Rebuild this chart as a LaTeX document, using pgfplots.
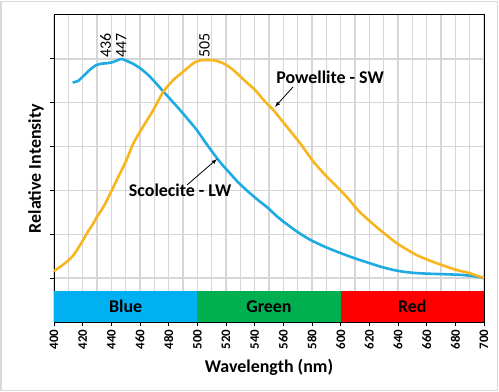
\documentclass[border=0pt]{standalone}
\usepackage{pgfplots}
\pgfplotsset{compat=1.18}
\usepackage{fontspec}
\setmainfont{Carlito}
\definecolor{lblue}{RGB}{30,170,226}
\definecolor{lorange}{RGB}{247,182,30}
\definecolor{bblue}{RGB}{0,176,240}
\definecolor{bgreen}{RGB}{0,176,80}
\definecolor{bred}{RGB}{255,0,0}
\definecolor{gridc}{RGB}{214,214,214}
\definecolor{framec}{RGB}{217,217,217}
\begin{document}
\begin{tikzpicture}
\useasboundingbox (-54bp,-70bp) rectangle (445bp,322bp);
\draw[framec, line width=1.5bp] (-53bp,-68.5bp) rectangle (443.5bp,320.5bp);
\begin{axis}[
  at={(0,0)}, anchor=south west,
  scale only axis, width=430bp, height=307bp,
  xmin=400, xmax=700, ymin=-0.2, ymax=1.2,
  xtick={400,420,...,700},
  minor xtick={410,430,...,690},
  ytick={0,0.2,0.4,0.6,0.8,1.0},
  yticklabels={},
  xtick pos=lower, ytick pos=left,
  tick align=outside,
  major tick length=4bp, minor tick length=0pt,
  tick style={black, line width=0.8bp},
  xmajorgrids, xminorgrids, ymajorgrids,
  grid style={gridc, line width=1.3bp},
  minor grid style={gridc, line width=1.3bp},
  axis line style={black, line width=1bp},
  /pgf/number format/assume math mode=true,
  /pgf/number format/1000 sep={},
  x tick label style={rotate=90, anchor=east, font=\fontsize{13}{14}\selectfont\bfseries},
  xlabel={Wavelength (nm)},
  ylabel={Relative Intensity},
  every axis x label/.style={at={(axis description cs:0.5,0)}, yshift=-45bp, anchor=center, font=\fontsize{18}{20}\selectfont\bfseries},
  every axis y label/.style={at={(axis description cs:0,0.5)}, xshift=-18bp, rotate=90, anchor=center, font=\fontsize{18}{20}\selectfont\bfseries},
  clip=false,
]
\addplot[fill=bblue, draw=none] coordinates {(400,-0.2) (500,-0.2) (500,-0.059) (400,-0.059)} -- cycle;
\addplot[fill=bgreen, draw=none] coordinates {(500,-0.2) (600,-0.2) (600,-0.059) (500,-0.059)} -- cycle;
\addplot[fill=bred, draw=none] coordinates {(600,-0.2) (700,-0.2) (700,-0.059) (600,-0.059)} -- cycle;
\node[font=\fontsize{18}{20}\selectfont\bfseries] at (axis cs:450,-0.13) {Blue};
\node[font=\fontsize{18}{20}\selectfont\bfseries] at (axis cs:550,-0.13) {Green};
\node[font=\fontsize{18}{20}\selectfont\bfseries] at (axis cs:650,-0.13) {Red};
% Scolecite - LW
\addplot[lblue, line width=2.6bp, mark=none, smooth, tension=0.3] coordinates {
(413,0.892) (417,0.90) (421,0.925) (425,0.95) (429,0.97) (433,0.978) (437,0.98)
(441,0.985) (444,0.993) (447,1.0) (451,0.99) (455,0.978) (460,0.958) (466,0.925)
(471,0.89) (476.3,0.851) (482,0.81) (487.9,0.767) (494,0.72) (499.6,0.676) (505,0.625)
(511.2,0.569) (517,0.52) (522.8,0.478) (528,0.44) (534.5,0.400) (542,0.358) (549.3,0.32)
(555,0.285) (560,0.258) (570,0.21) (579,0.174) (590,0.14) (600,0.114) (610,0.09)
(618,0.073) (628,0.052) (637,0.037) (645,0.028) (653,0.023) (662,0.02) (672,0.018)
(680,0.016) (686,0.014) (694,0.008) (700,0.0)};
% Powellite - SW
\addplot[lorange, line width=2.6bp, mark=none, smooth, tension=0.3] coordinates {
(400,0.032) (405,0.055) (409,0.075) (413,0.10) (416,0.128) (420,0.17) (423,0.205)
(427,0.245) (430,0.28) (434,0.32) (437,0.356) (444,0.45) (450,0.53) (455,0.61)
(460,0.668) (469.3,0.767) (476.3,0.851) (483.3,0.904) (490.2,0.942) (497.2,0.98)
(502,0.993) (506.6,0.995) (512,0.993) (518,0.98) (523,0.96) (527.5,0.935) (534,0.895)
(540.3,0.858) (547.2,0.805) (553,0.767) (562.4,0.691) (571.7,0.615) (581,0.531)
(590.3,0.463) (599.6,0.402) (605,0.365) (610,0.326) (614,0.297) (625,0.233) (639,0.16)
(653,0.105) (667,0.068) (681,0.037) (690,0.023) (700,0.0)};
% peak labels
\node[rotate=90, anchor=west, inner sep=1bp, font=\fontsize{16}{17}\selectfont] at (axis cs:436,1.0) {436};
\node[rotate=90, anchor=west, inner sep=1bp, font=\fontsize{16}{17}\selectfont] at (axis cs:447,1.0) {447};
\node[rotate=90, anchor=west, inner sep=1bp, font=\fontsize{16}{17}\selectfont] at (axis cs:505,1.0) {505};
% annotations
\node[font=\fontsize{18}{20}\selectfont\bfseries] at (axis cs:488,0.40) {Scolecite - LW};
\draw[-latex, line width=0.8bp] (axis cs:492.8,0.425) -- (axis cs:513.7,0.543);
\node[font=\fontsize{18}{20}\selectfont\bfseries] at (axis cs:592.6,0.915) {Powellite - SW};
\draw[-latex, line width=0.8bp] (axis cs:566.8,0.872) -- (axis cs:554.2,0.781);
\end{axis}
\end{tikzpicture}
\end{document}
